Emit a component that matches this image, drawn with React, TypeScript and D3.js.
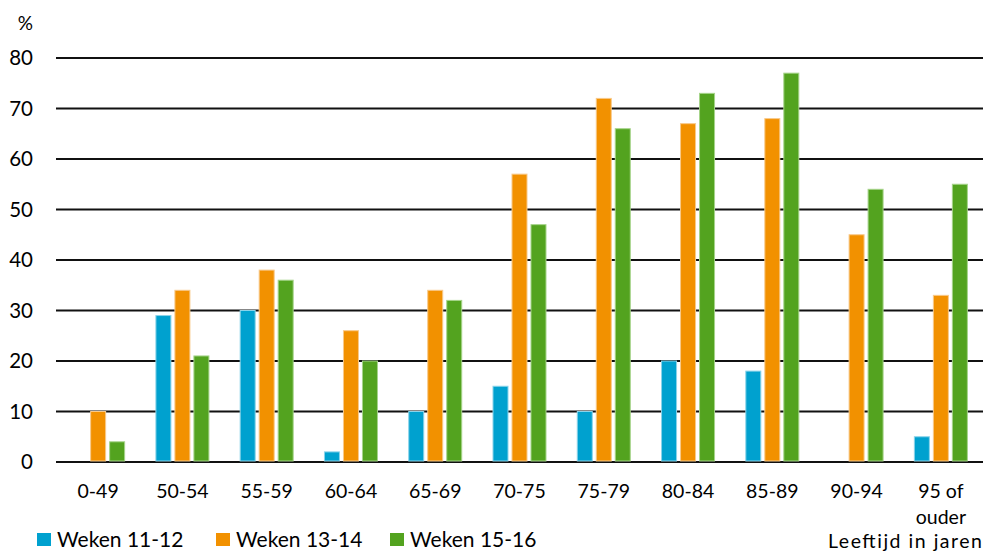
import React from "react";
import * as d3 from "d3";

const categories = ["0-49", "50-54", "55-59", "60-64", "65-69", "70-75", "75-79", "80-84", "85-89", "90-94", "95 of ouder"];
const seriesNames = ["Weken 11-12", "Weken 13-14", "Weken 15-16"];
const weken1112 = [0, 29, 30, 2, 10, 15, 10, 20, 18, 0, 5];
const weken1314 = [10, 34, 38, 26, 34, 57, 72, 67, 68, 45, 33];
const weken1516 = [4, 21, 36, 20, 32, 47, 66, 73, 77, 54, 55];
const yTicks = [0, 10, 20, 30, 40, 50, 60, 70, 80];
const colors = ["#00A1CF", "#F29100", "#53A31F"];
const strokes = ["#8ad3ea", "#f8c98a", "#a6d48a"];

const W = 984;
const H = 554;
const FONT = "Lato, 'Open Sans', sans-serif";

export default function App() {
  const values = [weken1112, weken1314, weken1516];
  const x0 = d3.scaleBand<string>().domain(categories).range([56, 983]).padding(0);
  const groupW = 53;
  const x1 = d3.scaleBand<string>().domain(seriesNames).range([0, groupW]).paddingInner(4 / 19);
  const y = d3.scaleLinear().domain([0, 80]).range([462, 58]);
  const off = (x0.bandwidth() - groupW) / 2;

  return (
    <svg width={W} height={H} style={{ position: "absolute", left: 0, top: 0, background: "#fff" }} fontFamily={FONT}>
      <text x={33} y={30} fontSize={19} textAnchor="end" fill="#000">%</text>
      {yTicks.map((t) => (
        <g key={t}>
          <line x1={56} x2={983} y1={y(t)} y2={y(t)} stroke="#111" strokeWidth={2} />
          <text x={33} y={y(t)} dy="0.36em" fontSize={20.5} textAnchor="end" fill="#000">{t}</text>
        </g>
      ))}
      {categories.map((c, i) => (
        <g key={c}>
          {seriesNames.map((s, j) => {
            const v = values[j][i];
            if (v <= 0) return null;
            const bx = (x0(c) as number) + off + (x1(s) as number);
            return (
              <rect
                key={s}
                x={bx}
                y={y(v)}
                width={x1.bandwidth()}
                height={y(0) - y(v) - 1}
                fill={colors[j]}
                stroke={strokes[j]}
                strokeWidth={1}
              />
            );
          })}
        </g>
      ))}
      {categories.map((c) => {
        const cx = (x0(c) as number) + x0.bandwidth() / 2;
        const parts = c === "95 of ouder" ? ["95 of", "ouder"] : [c];
        return (
          <text key={c} x={cx} y={498} fontSize={19.5} textAnchor="middle" fill="#000">
            {parts.map((p, k) => (
              <tspan key={k} x={cx} dy={k === 0 ? 0 : 25.5}>{p}</tspan>
            ))}
          </text>
        );
      })}
      <text x={828} y={548} fontSize={19.5} textLength={154} lengthAdjust="spacing" fill="#000">Leeftijd in jaren</text>
      {seriesNames.map((s, j) => {
        const lx = [37, 216, 390][j];
        return (
          <g key={s}>
            <rect x={lx} y={533} width={14} height={13} fill={colors[j]} />
            <text x={lx + 20} y={547} fontSize={21} fill="#000">{s}</text>
          </g>
        );
      })}
    </svg>
  );
}
